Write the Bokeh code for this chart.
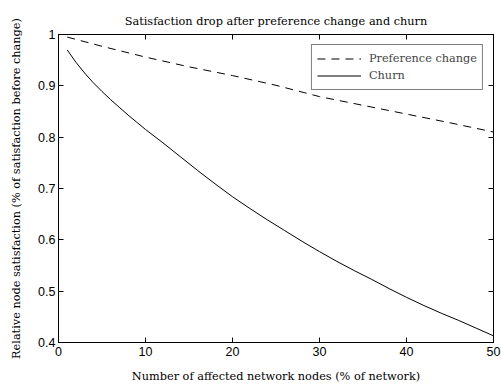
from bokeh.plotting import figure
from bokeh.models import (LinearAxis, Legend, LegendItem, Range1d, FixedTicker,
                          CustomJSTickFormatter, ColumnDataSource, Title)
from bokeh.embed import file_html
from bokeh.resources import INLINE

# ---- data ----
pref_x = [1, 5, 10, 15, 20, 25, 30, 35, 40, 45, 50]
pref_y = [0.995, 0.977, 0.956, 0.937, 0.920, 0.901, 0.879, 0.862, 0.845, 0.828, 0.810]

churn_x = [1, 2, 3, 4, 5, 6, 7, 8, 9, 10, 12, 14, 16, 18, 20, 22, 24, 26, 28, 30,
           32, 34, 36, 38, 40, 42, 44, 46, 48, 50]
churn_y = [0.970, 0.946, 0.925, 0.906, 0.889, 0.873, 0.858, 0.843, 0.829, 0.815,
           0.789, 0.762, 0.735, 0.709, 0.684, 0.661, 0.639, 0.618, 0.597, 0.577,
           0.558, 0.540, 0.523, 0.505, 0.488, 0.472, 0.457, 0.443, 0.428, 0.413]

x_ticks = [0, 10, 20, 30, 40, 50]
y_ticks = [0.4, 0.5, 0.6, 0.7, 0.8, 0.9, 1.0]

title_text = "Satisfaction drop after preference change and churn"
x_label = "Number of affected network nodes (% of network)"
y_label = "Relative node satisfaction (% of satisfaction before change)"
series_names = ["Preference change", "Churn"]

SANS = "Liberation Sans"
SERIF = "DejaVu Serif"
SERIF_SIZE = "11.3px"

p = figure(width=501, height=392, output_backend="svg", toolbar_location=None,
           x_range=Range1d(0, 50), y_range=Range1d(0.4, 1.0),
           x_axis_location=None, y_axis_location=None,
           min_border_left=58, min_border_right=8, min_border_top=34,
           min_border_bottom=50)
p.grid.visible = False
p.outline_line_color = "black"
p.outline_line_width = 1
p.background_fill_color = "white"
p.border_fill_color = "white"

yfmt = CustomJSTickFormatter(code="""
var s = tick.toFixed(1);
if (s === '1.0') return '1';
return s;
""")
xfmt = CustomJSTickFormatter(code="return tick.toFixed(0);")
blank = CustomJSTickFormatter(code="return '';")

def style_axis(ax):
    ax.major_tick_in = 5
    ax.major_tick_out = 0
    ax.minor_tick_in = 0
    ax.minor_tick_out = 0
    ax.axis_line_color = "black"
    ax.major_tick_line_color = "black"
    ax.major_label_text_font = SANS
    ax.major_label_text_font_size = "12.5px"
    ax.major_label_text_color = "black"
    ax.axis_label_text_font = SERIF
    ax.axis_label_text_font_style = "normal"
    ax.axis_label_text_font_size = SERIF_SIZE
    ax.axis_label_text_color = "black"

xb = LinearAxis(ticker=FixedTicker(ticks=x_ticks), formatter=xfmt, axis_label=x_label)
style_axis(xb)
xb.major_label_standoff = 4
xb.axis_label_standoff = 11
p.add_layout(xb, "below")

yl = LinearAxis(ticker=FixedTicker(ticks=y_ticks), formatter=yfmt, axis_label=y_label)
style_axis(yl)
yl.major_label_standoff = 3
yl.axis_label_standoff = 12
p.add_layout(yl, "left")

xt = LinearAxis(ticker=FixedTicker(ticks=x_ticks), formatter=blank)
style_axis(xt)
xt.major_label_standoff = 0
p.add_layout(xt, "above")

yr = LinearAxis(ticker=FixedTicker(ticks=y_ticks), formatter=blank)
style_axis(yr)
yr.major_label_standoff = 0
p.add_layout(yr, "right")

src_p = ColumnDataSource(dict(x=pref_x, y=pref_y))
src_c = ColumnDataSource(dict(x=churn_x, y=churn_y))
r1 = p.line("x", "y", source=src_p, line_color="black", line_width=1, line_dash="8 6")
r2 = p.line("x", "y", source=src_c, line_color="black", line_width=1)

legend = Legend(items=[LegendItem(label=series_names[0], renderers=[r1]),
                       LegendItem(label=series_names[1], renderers=[r2])],
                location="top_right")
legend.label_text_font = SERIF
legend.label_text_font_size = SERIF_SIZE
legend.border_line_color = "black"
legend.border_line_width = 1
legend.glyph_width = 44
legend.glyph_height = 17
legend.label_height = 17
legend.spacing = 0
legend.padding = 5
legend.margin = 10
legend.label_standoff = 8
legend.background_fill_alpha = 1
p.add_layout(legend, "center")

t = Title(text=title_text, text_font=SERIF, text_font_size=SERIF_SIZE,
          text_font_style="normal", align="center", text_color="black",
          standoff=14)
p.add_layout(t, "above")

open("out.html", "w").write(file_html(p, INLINE))
